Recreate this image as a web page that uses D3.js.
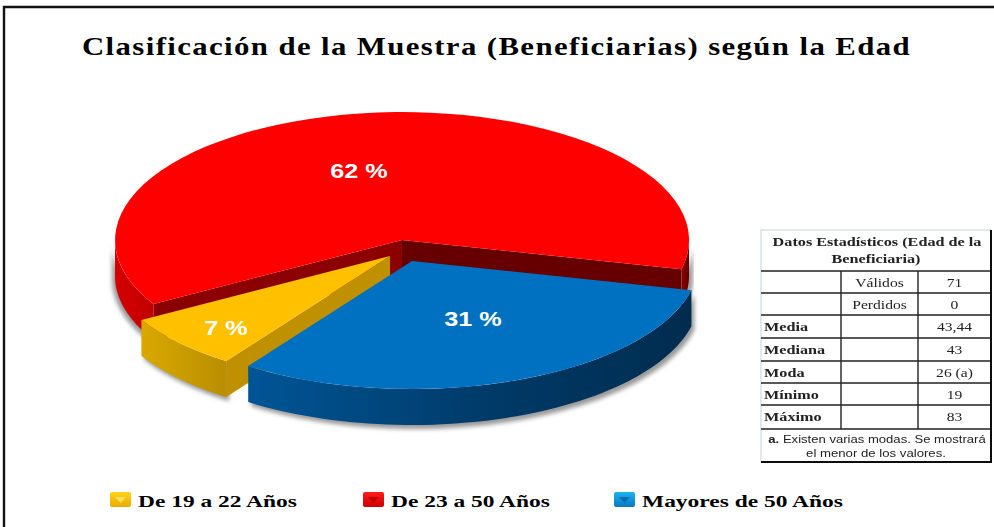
<!DOCTYPE html>
<html>
<head>
<meta charset="utf-8">
<script src="https://cdn.jsdelivr.net/npm/d3@7"></script>
<style>
  html, body { margin: 0; padding: 0; background: #fff; }
  svg { display: block; }
</style>
</head>
<body>
<script>
var title = "Clasificación de la Muestra (Beneficiarias) según la Edad";

var categories = ["De 23 a 50 Años", "Mayores de 50 Años", "De 19 a 22 Años"];
var percents = [62, 31, 7];
var legendOrder = ["De 19 a 22 Años", "De 23 a 50 Años", "Mayores de 50 Años"];

var tableTitle = ["Datos Estadísticos (Edad de la", "Beneficiaria)"];
var rowLabels = ["", "", "Media", "Mediana", "Moda", "Mínimo", "Máximo"];
var rowSub = ["Válidos", "Perdidos", "", "", "", "", ""];
var rowValues = ["71", "0", "43,44", "43", "26 (a)", "19", "83"];
var tableNote = ["Existen varias modas. Se mostrará", "el menor de los valores."];

var svgWidth = 994, svgHeight = 527;
var svg = d3.select("body").append("svg")
  .attr("width", svgWidth)
  .attr("height", svgHeight);

var defs = svg.append("defs");
defs.append("filter").attr("id", "soft")
  .append("feGaussianBlur").attr("stdDeviation", 0.45);
defs.append("filter").attr("id", "shadow")
  .attr("x", "-10%").attr("y", "-10%").attr("width", "120%").attr("height", "120%")
  .append("feGaussianBlur").attr("stdDeviation", 2);

function wallGradient(id, stops) {
  var g = defs.append("linearGradient").attr("id", id);
  stops.forEach(function(s) {
    g.append("stop").attr("offset", s[0]).attr("stop-color", s[1]);
  });
}
wallGradient("wallRed", [["0%", "#d60000"], ["100%", "#c00000"]]);
wallGradient("wallRedRight", [["0%", "#8a0000"], ["100%", "#640000"]]);
wallGradient("wallBlue", [["0%", "#005596"], ["55%", "#003a68"], ["100%", "#002c4e"]]);
wallGradient("wallYellow", [["0%", "#d9a900"], ["100%", "#b98e00"]]);

function swatchGradient(id, light, dark) {
  var g = defs.append("linearGradient").attr("id", id).attr("x2", 0).attr("y2", 1);
  g.append("stop").attr("offset", "0%").attr("stop-color", light);
  g.append("stop").attr("offset", "100%").attr("stop-color", dark);
}
swatchGradient("swYellow", "#ffd21a", "#e8ac00");
swatchGradient("swRed", "#ff1a1a", "#d00000");
swatchGradient("swBlue", "#19b4f0", "#0a78c0");

// the whole picture was widened, so the text is too
function wide(sel, x, y, k) {
  sel.attr("transform", "translate(" + x + "," + y + ") scale(" + k + ",1)");
  return sel;
}

// frame, only top and left are in the picture
svg.append("path")
  .attr("d", d3.line()([[4, 527], [4, 7], [994, 7]]))
  .attr("fill", "none")
  .attr("stroke", "#111")
  .attr("stroke-width", 2.4);

svg.append("text")
  .attr("x", 82)
  .attr("y", 55)
  .attr("textLength", 829)
  .attr("lengthAdjust", "spacingAndGlyphs")
  .attr("letter-spacing", 1.1)
  .attr("font-family", "Liberation Serif")
  .attr("font-weight", "bold")
  .attr("font-size", 24.5)
  .attr("fill", "#000")
  .text(title);

// pie, squashed so it looks tilted
var rx = 287, ry = 128, depth = 36;
var colors = ["#ff0000", "#0070c0", "#ffc000"];
var outerFill = ["url(#wallRed)", "url(#wallBlue)", "url(#wallYellow)"];
var edgeFill = ["#8b0000", "#bf9000", "#bf9000"];
var centers = [[402, 240], [412, 261], [390, 256]];

var pie = d3.pie().sort(null)
  .startAngle(-120 * Math.PI / 180)
  .endAngle(240 * Math.PI / 180);
var slices = pie(percents);

var xr = d3.scaleLinear().domain([-1, 1]).range([-rx, rx]);
var yr = d3.scaleLinear().domain([-1, 1]).range([-ry, ry]);
var arc = d3.arc().innerRadius(0).outerRadius(1);

function rimPoint(a, c, drop) {
  return [c[0] + xr(Math.sin(a)), c[1] + yr(-Math.cos(a)) + drop];
}

// side of a slice along the rim between two angles
function rimWall(a0, a1, c) {
  var ang = d3.range(0, 61).map(function(i) { return a0 + (a1 - a0) * i / 60; });
  var top = ang.map(function(a) { return rimPoint(a, c, 0); });
  var bottom = ang.slice().reverse().map(function(a) { return rimPoint(a, c, depth); });
  return d3.line()(top.concat(bottom)) + "Z";
}

function sideWall(c, angle) {
  var p = rimPoint(angle, c, 0);
  return d3.line()([c, p, [p[0], p[1] + depth], [c[0], c[1] + depth]]) + "Z";
}

function topFace(i) {
  pieGroup.append("path")
    .attr("transform", "translate(" + centers[i] + ") scale(" + rx + "," + ry + ")")
    .attr("d", arc(slices[i]))
    .attr("fill", colors[i]);
}

var pieGroup = svg.append("g");
var halfPi = Math.PI / 2;

// shadow under the pieces
pieGroup.append("path")
  .attr("d", rimWall(slices[0].endAngle, halfPi, [centers[0][0] + 4, centers[0][1] + 3]))
  .attr("fill", "#999").attr("filter", "url(#shadow)");
pieGroup.append("path")
  .attr("d", rimWall(-halfPi, slices[0].startAngle, [centers[0][0] - 3, centers[0][1] + 3]))
  .attr("fill", "#999").attr("filter", "url(#shadow)");
[1, 2].forEach(function(i) {
  pieGroup.append("path")
    .attr("d", rimWall(slices[i].startAngle, slices[i].endAngle, [centers[i][0] + 3, centers[i][1] + 4]))
    .attr("fill", "#999").attr("filter", "url(#shadow)");
});

// red: rim on left and right, then the two dark cut faces
pieGroup.append("path")
  .attr("d", rimWall(-halfPi, slices[0].startAngle, centers[0]))
  .attr("fill", "url(#wallRed)");
pieGroup.append("path")
  .attr("d", rimWall(halfPi, slices[0].endAngle, centers[0]))
  .attr("fill", "url(#wallRedRight)");
pieGroup.append("path")
  .attr("d", sideWall(centers[0], slices[0].startAngle))
  .attr("fill", edgeFill[0]);
pieGroup.append("path")
  .attr("d", sideWall(centers[0], slices[0].endAngle))
  .attr("fill", "#660000");
topFace(0);

// yellow
pieGroup.append("path")
  .attr("d", rimWall(slices[2].startAngle, slices[2].endAngle, centers[2]))
  .attr("fill", outerFill[2]);
pieGroup.append("path")
  .attr("d", sideWall(centers[2], slices[2].startAngle))
  .attr("fill", edgeFill[2]);
topFace(2);

// blue
pieGroup.append("path")
  .attr("d", rimWall(slices[1].startAngle, slices[1].endAngle, centers[1]))
  .attr("fill", outerFill[1]);
topFace(1);

// percent labels
var labelAt = [[359, 178], [473, 326], [226, 335]];
pieGroup.selectAll("text.pct")
  .data(percents)
  .enter()
  .append("text")
  .attr("class", "pct")
  .attr("text-anchor", "middle")
  .attr("font-family", "Liberation Sans")
  .attr("font-weight", "bold")
  .attr("font-size", 21)
  .attr("fill", "#fff")
  .attr("transform", function(d, i) {
    return "translate(" + labelAt[i] + ") scale(1.2,1)";
  })
  .text(function(d) { return d + " %"; });

// legend
var legendX = d3.scaleOrdinal().domain(legendOrder).range([110, 363, 614]);
var legendFill = d3.scaleOrdinal().domain(legendOrder)
  .range(["url(#swYellow)", "url(#swRed)", "url(#swBlue)"]);
var legendMark = d3.scaleOrdinal().domain(legendOrder)
  .range(["#ffe36a", "#b80000", "#1060a8"]);

var legend = svg.append("g").selectAll("g")
  .data(legendOrder)
  .enter()
  .append("g")
  .attr("transform", function(d) { return "translate(" + legendX(d) + ",492)"; });

legend.append("rect")
  .attr("width", 21)
  .attr("height", 15)
  .attr("rx", 2)
  .attr("fill", function(d) { return legendFill(d); });
legend.append("path")
  .attr("d", d3.line()([[5, 5], [16, 5], [10.5, 11]]) + "Z")
  .attr("fill", function(d) { return legendMark(d); })
  .attr("opacity", 0.8);
legend.append("text")
  .attr("transform", "translate(28,15) scale(1.34,1)")
  .attr("font-family", "Liberation Serif")
  .attr("font-weight", "bold")
  .attr("font-size", 17.5)
  .attr("fill", "#000")
  .text(function(d) { return d; });

// table
var colX = [761, 841, 918, 991];
var rowY = [271, 293, 315, 338, 361, 383, 405, 429];
var tableTop = 230, tableBottom = 462;

var table = svg.append("g").attr("filter", "url(#soft)");
table.append("rect")
  .attr("x", colX[0]).attr("y", tableTop)
  .attr("width", colX[3] - colX[0]).attr("height", tableBottom - tableTop)
  .attr("fill", "#fff")
  .attr("stroke", "#c8d2de");

var grid = d3.range(rowY.length).map(function(i) {
  return [[colX[0], rowY[i]], [colX[3], rowY[i]]];
});
grid.push([[colX[1], rowY[0]], [colX[1], rowY[7]]]);
grid.push([[colX[2], rowY[0]], [colX[2], rowY[7]]]);
table.selectAll("path.grid")
  .data(grid)
  .enter()
  .append("path")
  .attr("class", "grid")
  .attr("d", function(d) { return d3.line()(d); })
  .attr("stroke", "#222")
  .attr("stroke-width", 1.4);
table.append("path")
  .attr("d", d3.line()([[colX[3], tableTop], [colX[3], tableBottom], [colX[0], tableBottom]]))
  .attr("fill", "none")
  .attr("stroke", "#111")
  .attr("stroke-width", 2);

function cell(x, y, txt, anchor, bold, size, font) {
  return wide(table.append("text"), x, y, 1.2)
    .attr("text-anchor", anchor)
    .attr("font-family", font || "Liberation Serif")
    .attr("font-weight", bold ? "bold" : "normal")
    .attr("font-size", size)
    .attr("fill", "#222")
    .text(txt);
}

var midX = (colX[0] + colX[3]) / 2;
cell(midX + 1, 246, tableTitle[0], "middle", true, 13.5);
cell(midX, 263, tableTitle[1], "middle", true, 13.5);

rowValues.forEach(function(v, i) {
  var base = rowY[i] + 16;
  if (rowLabels[i]) cell(colX[0] + 3, base, rowLabels[i], "start", true, 13.5);
  if (rowSub[i]) cell((colX[1] + colX[2]) / 2, base, rowSub[i], "middle", false, 13);
  cell((colX[2] + colX[3]) / 2, base, v, "middle", false, 13);
});

var note = wide(table.append("text"), midX + 1, 443, 1.19)
  .attr("text-anchor", "middle")
  .attr("font-family", "Liberation Sans")
  .attr("font-size", 11)
  .attr("fill", "#222");
note.append("tspan").attr("font-weight", "bold").text("a. ");
note.append("tspan").text(tableNote[0]);
cell(midX, 457, tableNote[1], "middle", false, 11, "Liberation Sans");
</script>
</body>
</html>
